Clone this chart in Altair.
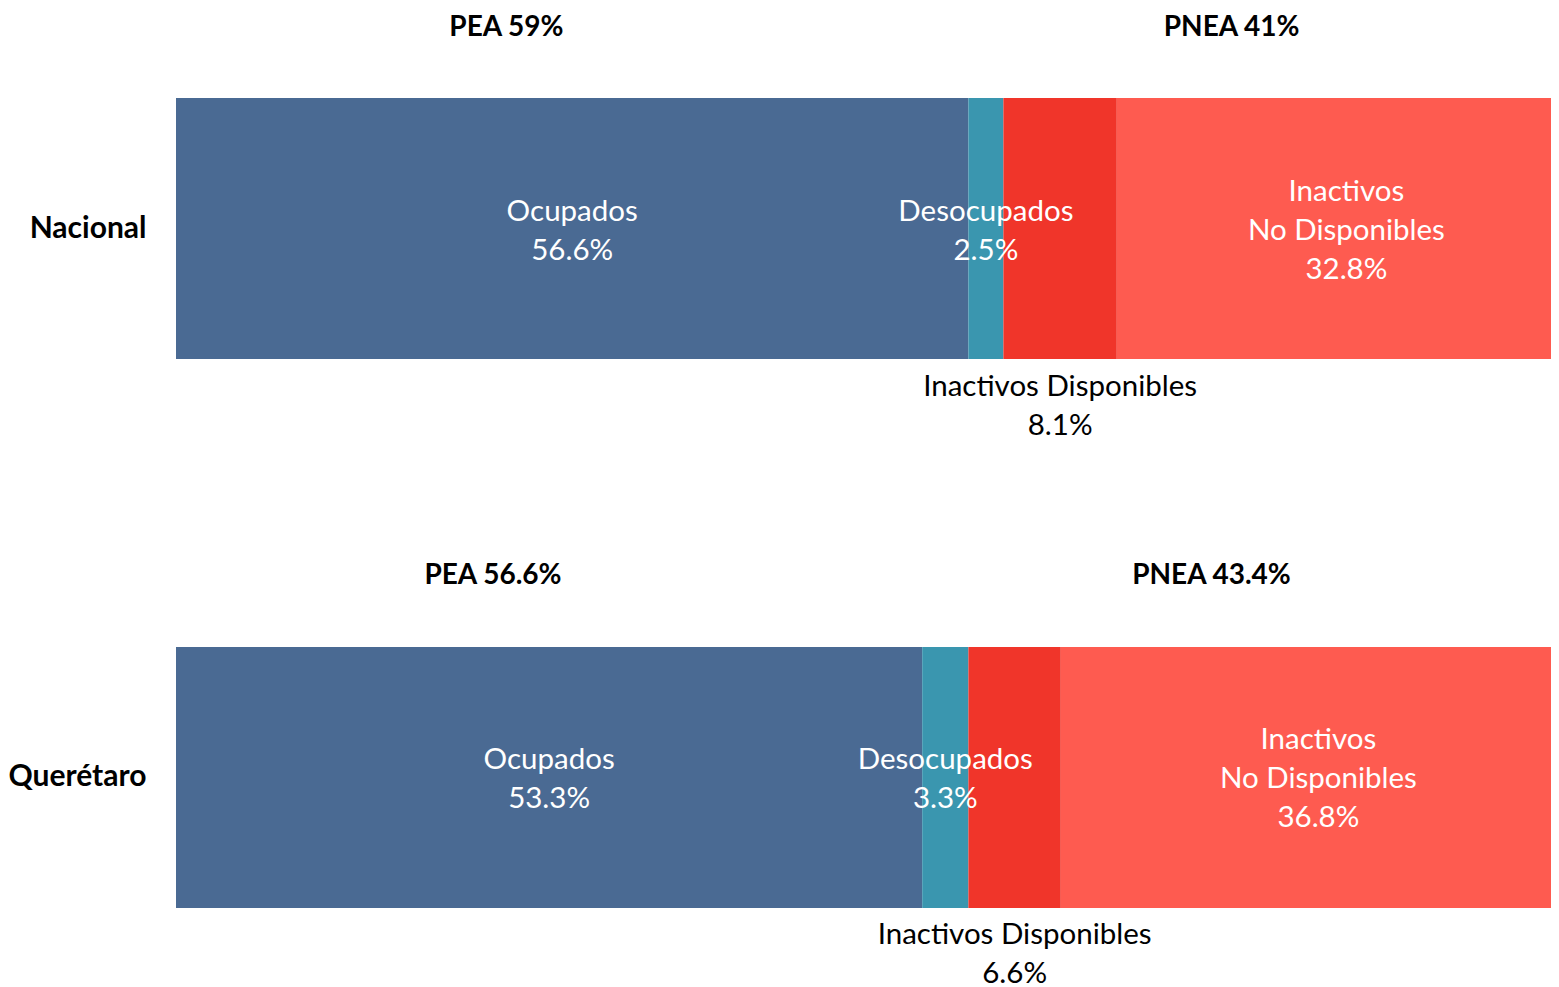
import altair as alt
import pandas as pd

regions = ["Nacional", "Querétaro"]
categories = ["Ocupados", "Desocupados", "Inactivos Disponibles", "Inactivos No Disponibles"]
label_names = ["Ocupados", "Desocupados", "Inactivos Disponibles", "Inactivos\nNo Disponibles"]
nacional = [56.6, 2.5, 8.1, 32.8]
queretaro = [53.3, 3.3, 6.6, 36.8]
pea = [59, 56.6]
pnea = [41, 43.4]
colors = ["#4A6A93", "#3A96AF", "#F0352A", "#FE5B50"]

rows = []
for reg, vals in zip(regions, [nacional, queretaro]):
    start = 0.0
    for cat, name, v in zip(categories, label_names, vals):
        rows.append({"region": reg, "category": cat, "value": v,
                     "start": start, "end": start + v,
                     "label": f"{name}\n{v}%"})
        start += v
seg = pd.DataFrame(rows)

hrows = []
for reg, a, b in zip(regions, pea, pnea):
    hrows.append({"region": reg, "start": 0.0, "width": a, "label": f"PEA {a:g}%"})
    hrows.append({"region": reg, "start": a, "width": b, "label": f"PNEA {b:g}%"})
hdr = pd.DataFrame(hrows)

FONT = "Lato"
FS = 29.5
LH = 39
xscale = alt.Scale(domain=[0, 100 * 1375 / 1400], nice=False, zero=False)
yscale = alt.Scale(domain=regions, paddingInner=0.52459, paddingOuter=0.14572, align=0.5625)
yenc = alt.Y("region:N", scale=yscale, sort=regions,
             axis=alt.Axis(title=None, ticks=False, domain=False, grid=False, labelFontSize=30,
                           labelFont=FONT, labelFontWeight="bold", labelColor="black",
                           labelPadding=30))
xmid = alt.X("mid:Q", scale=xscale, axis=None)

bars = alt.Chart(seg).mark_bar(clip=True).encode(
    x=alt.X("start:Q", scale=xscale, axis=None),
    x2="end:Q",
    y=yenc,
    color=alt.Color("category:N", scale=alt.Scale(domain=categories, range=colors), legend=None),
)

base_txt = alt.Chart(seg).transform_calculate(mid="(datum.start + datum.end) / 2")

inner2 = base_txt.transform_filter(
    alt.FieldOneOfPredicate(field="category", oneOf=["Ocupados", "Desocupados"])
).mark_text(font=FONT, fontSize=FS, color="white", lineBreak="\n", lineHeight=LH,
            baseline="middle", align="center", dy=-17).encode(
    x=xmid, y=yenc, text="label:N",
)

inner3 = base_txt.transform_filter(
    alt.datum.category == "Inactivos No Disponibles"
).mark_text(font=FONT, fontSize=FS, color="white", lineBreak="\n", lineHeight=LH,
            baseline="middle", align="center", dy=-37).encode(
    x=xmid, y=yenc, text="label:N",
)

below = base_txt.transform_filter(
    alt.datum.category == "Inactivos Disponibles"
).mark_text(font=FONT, fontSize=FS, color="black", lineBreak="\n", lineHeight=LH,
            baseline="middle", align="center", dy=158).encode(
    x=xmid, y=yenc, text="label:N",
)

headers = alt.Chart(hdr).transform_calculate(
    pos="datum.start + 0.4 * datum.width"
).mark_text(font=FONT, fontSize=28, fontWeight="bold", color="black",
            baseline="middle", align="center", dy=-201).encode(
    x=alt.X("pos:Q", scale=xscale, axis=None),
    y=yenc,
    text="label:N",
)

chart = alt.layer(bars, inner2, inner3, below, headers).properties(
    width=1375, height=970,
    padding={"left": 168, "top": 0, "right": 0, "bottom": 9},
    autosize=alt.AutoSizeParams(type="none"),
    background="white",
).configure_view(stroke="transparent", strokeWidth=0)

chart.save("out.html", embed_options={"renderer": "svg", "actions": False})
